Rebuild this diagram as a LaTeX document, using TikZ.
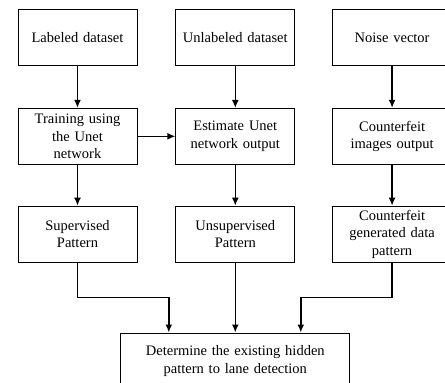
\documentclass[tikz,border=0pt]{standalone}
\usepackage{fontspec}
\setmainfont{Liberation Serif}[WordSpace=1.7]
\usetikzlibrary{shapes,arrows.meta}
\usetikzlibrary{positioning}
\tikzstyle{line} = [draw, line width=1.6pt, -{Latex[length=8pt,width=7pt]}]
\tikzstyle{block} = [rectangle, minimum width=119pt, minimum height=56pt, text width=116pt, inner sep=0pt,
     align=center, draw=black, line width=0.8pt, font=\fontsize{14.5}{17.5}\selectfont]
\tikzstyle{wide} = [block, minimum width=229pt, text width=224pt]

\begin{document}
\begin{tikzpicture}
\useasboundingbox (0,0) rectangle (445pt,-383pt);
% top row
\node (labeled) [block] at (77.5pt,-37.5pt) {Labeled dataset};
\node (unlabeled) [block, right=38pt of labeled] {Unlabeled dataset};
\node (noise) [block, right=37pt of unlabeled] {Noise vector};
% middle row
\node (training) [block, below=42pt of labeled] {Training using\\ the Unet\\ network};
\node (estimate) [block, below=42pt of unlabeled] {Estimate Unet\\ network output};
\node (fakeimg) [block, below=42pt of noise] {Counterfeit\\ images output};
% patterns
\node (supervised) [block, below=41pt of training] {Supervised\\ Pattern};
\node (unsupervised) [block, below=41pt of estimate] {Unsupervised\\ Pattern};
\node (fakepattern) [block, below=41pt of fakeimg] {Counterfeit\\ generated data\\ pattern};
% result
\node (determine) [wide, below=70pt of unsupervised] {Determine the existing hidden\\ pattern to lane detection};

\path [line] (labeled) -- (training);
\path [line] (unlabeled) -- (estimate);
\path [line] (noise) -- (fakeimg);
\path [line] (training) -- (estimate);
\path [line] (training) -- (supervised);
\path [line] (estimate) -- (unsupervised);
\path [line] (fakeimg) -- (fakepattern);
\path [line] (supervised.south) -- ++(0,-35pt) -| ([xshift=-66.5pt]determine.north);
\path [line] (unsupervised) -- (determine);
\path [line] (fakepattern.south) -- ++(0,-35pt) -| ([xshift=65.5pt]determine.north);
\end{tikzpicture}
\end{document}
